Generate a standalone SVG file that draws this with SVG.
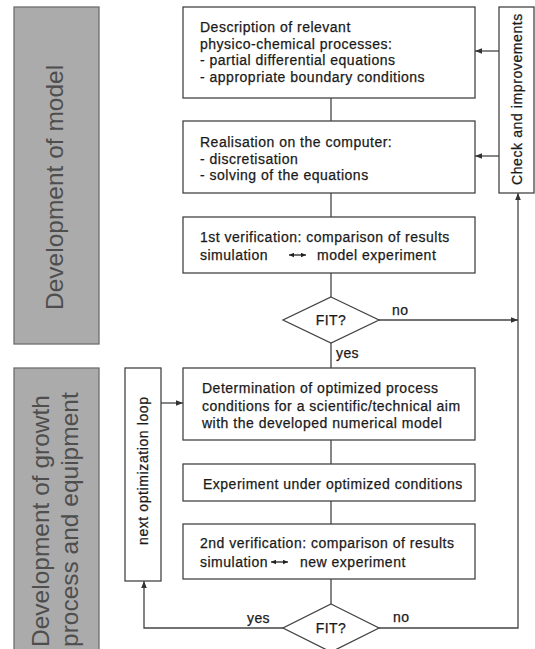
<svg xmlns="http://www.w3.org/2000/svg" width="535" height="649" viewBox="0 0 535 649">
  <defs>
    <marker id="arrow" viewBox="0 0 10 10" refX="10" refY="5" markerWidth="7" markerHeight="7" markerUnits="userSpaceOnUse" orient="auto">
      <path d="M0,1 L10,5 L0,9 z" fill="#333"/>
    </marker>
    <marker id="tip" viewBox="0 0 10 10" refX="10" refY="5" markerWidth="5" markerHeight="5" markerUnits="userSpaceOnUse" orient="auto-start-reverse">
      <path d="M0,0.5 L10,5 L0,9.5 z" fill="#222"/>
    </marker>
    <style>
      .band { fill: #ababab; stroke: #6e6e6e; stroke-width: 1.3; }
      .band-text { font-family: "Liberation Sans", Arial, sans-serif; font-size: 24.5px; fill: #4e4e4e; }
      .box { fill: #ffffff; stroke: #444; stroke-width: 1.3; }
      .txt { font-family: "Liberation Sans", Arial, sans-serif; font-size: 14px; letter-spacing: 0.5px; fill: #1a1a1a; stroke: #1a1a1a; stroke-width: 0.25px; }
      .side { font-family: "Liberation Sans", Arial, sans-serif; font-size: 14px; letter-spacing: 0.6px; fill: #1a1a1a; stroke: #1a1a1a; stroke-width: 0.25px; }
      .lbl { font-family: "Liberation Sans", Arial, sans-serif; font-size: 14px; letter-spacing: 0.4px; fill: #1a1a1a; stroke: #1a1a1a; stroke-width: 0.25px; }
      .line { fill: none; stroke: #444; stroke-width: 1.3; }
      .arr { fill: none; stroke: #444; stroke-width: 1.3; marker-end: url(#arrow); }
      .dbl { fill: none; stroke: #222; stroke-width: 1.3; marker-start: url(#tip); marker-end: url(#tip); }
    </style>
  </defs>

  <!-- phase bands -->
  <g id="band-model">
    <rect class="band" x="14" y="7" width="85" height="337"/>
    <text class="band-text" transform="translate(63,310) rotate(-90)">Development of model</text>
  </g>
  <g id="band-growth">
    <rect class="band" x="14" y="368" width="85" height="290"/>
    <text class="band-text" transform="translate(49,647) rotate(-90)">Development of growth</text>
    <text class="band-text" transform="translate(78,647) rotate(-90)">process and equipment</text>
  </g>

  <!-- connectors -->
  <g id="connectors">
    <line class="line" x1="331" y1="98" x2="331" y2="121"/>
    <line class="line" x1="331" y1="193" x2="331" y2="217"/>
    <line class="line" x1="331" y1="273" x2="331" y2="297"/>
    <line class="line" x1="331" y1="343" x2="331" y2="368"/>
    <line class="line" x1="331" y1="440" x2="331" y2="464"/>
    <line class="line" x1="331" y1="501" x2="331" y2="524"/>
    <line class="line" x1="331" y1="579" x2="331" y2="604"/>
    <!-- feedback from "check and improvements" -->
    <line class="arr" x1="499" y1="51" x2="475" y2="51"/>
    <line class="arr" x1="499" y1="156" x2="475" y2="156"/>
    <!-- "no" branches -->
    <line class="arr" x1="379" y1="320" x2="518" y2="320"/>
    <path class="arr" d="M379,628 L518,628 L518,193"/>
    <!-- "yes" loop back -->
    <path class="arr" d="M283,628 L144,628 L144,581"/>
    <line class="arr" x1="161" y1="403" x2="183" y2="403"/>
  </g>

  <!-- model development steps -->
  <g id="step-description">
    <rect class="box" x="183" y="7" width="292" height="91"/>
    <text class="txt" x="200" y="32">Description of relevant</text>
    <text class="txt" x="200" y="49">physico-chemical processes:</text>
    <text class="txt" x="200" y="65">- partial differential equations</text>
    <text class="txt" x="200" y="82">- appropriate boundary conditions</text>
  </g>
  <g id="step-realisation">
    <rect class="box" x="183" y="121" width="292" height="72"/>
    <text class="txt" x="200" y="147">Realisation on the computer:</text>
    <text class="txt" x="200" y="164">- discretisation</text>
    <text class="txt" x="200" y="180">- solving of the equations</text>
  </g>
  <g id="step-verification1">
    <rect class="box" x="183" y="217" width="292" height="56"/>
    <text class="txt" x="200" y="242">1st verification: comparison of results</text>
    <text class="txt" x="200" y="260">simulation</text>
    <line class="dbl" x1="289" y1="255" x2="306" y2="255"/>
    <text class="txt" x="317" y="260">model experiment</text>
  </g>
  <g id="decision-fit1">
    <polygon class="box" points="331,297 379,320 331,343 283,320"/>
    <text class="lbl" x="331" y="325" text-anchor="middle">FIT?</text>
    <text class="lbl" x="392" y="315">no</text>
    <text class="lbl" x="336" y="358">yes</text>
  </g>
  <g id="check-improvements">
    <rect class="box" x="499" y="7" width="35" height="186"/>
    <text class="side" transform="translate(522,185) rotate(-90)">Check and improvements</text>
  </g>

  <!-- growth process steps -->
  <g id="step-optimization">
    <rect class="box" x="183" y="368" width="292" height="72"/>
    <text class="txt" x="202" y="393">Determination of optimized process</text>
    <text class="txt" x="202" y="411">conditions for a scientific/technical aim</text>
    <text class="txt" x="202" y="428">with the developed numerical model</text>
  </g>
  <g id="step-experiment">
    <rect class="box" x="183" y="464" width="292" height="37"/>
    <text class="txt" x="203" y="489">Experiment under optimized conditions</text>
  </g>
  <g id="step-verification2">
    <rect class="box" x="183" y="524" width="292" height="55"/>
    <text class="txt" x="200" y="548">2nd verification: comparison of results</text>
    <text class="txt" x="200" y="567">simulation</text>
    <line class="dbl" x1="271" y1="562" x2="288" y2="562"/>
    <text class="txt" x="300" y="567">new experiment</text>
  </g>
  <g id="next-loop">
    <rect class="box" x="125" y="368" width="36" height="213"/>
    <text class="side" transform="translate(148,545) rotate(-90)">next optimization loop</text>
  </g>
  <g id="decision-fit2">
    <polygon class="box" points="331,604 379,628 331,652 283,628"/>
    <text class="lbl" x="331" y="633" text-anchor="middle">FIT?</text>
    <text class="lbl" x="247" y="623">yes</text>
    <text class="lbl" x="393" y="622">no</text>
  </g>
</svg>
